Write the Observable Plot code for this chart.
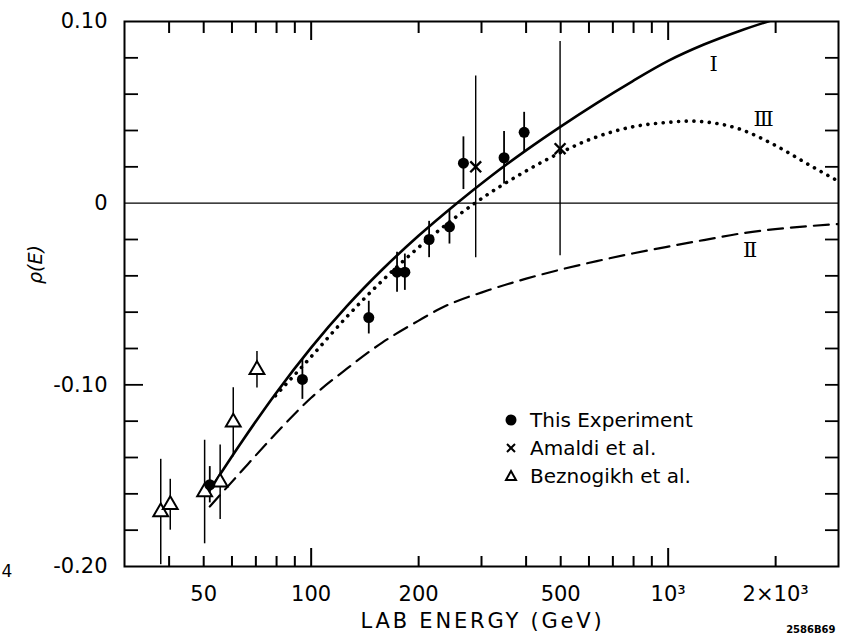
<!DOCTYPE html>
<html>
<head>
<meta charset="utf-8">
<script src="https://cdn.jsdelivr.net/npm/d3@7"></script>
<script src="https://cdn.jsdelivr.net/npm/@observablehq/plot@0.6"></script>
<style>
  html, body { margin: 0; padding: 0; background: #fff; }
  #wrap { position: relative; width: 843px; height: 641px; }
  #legend { position: absolute; left: 502px; top: 406px; font-family: "DejaVu Sans", sans-serif; font-size: 20px; color: #000; }
  #legend .row { display: flex; align-items: center; height: 28px; }
  #legend svg { width: 18px; height: 18px; margin-right: 10px; }
</style>
</head>
<body>
<div id="wrap"><div id="chart"></div><div id="legend"></div></div>
<script>
// ---------- data ----------
// Curve I (solid)
const curveI_E   = [52, 63.1, 79.4, 100, 125.9, 158.5, 199.5, 256, 316, 398, 501, 631, 794, 1000, 1259, 1585, 1995];
const curveI_rho = [-0.158, -0.133, -0.105, -0.0795, -0.0567, -0.0364, -0.0181, 0.0, 0.0143, 0.0288, 0.0423, 0.0551, 0.0671, 0.0783, 0.0873, 0.0948, 0.1013];
// Curve II (dashed)
const curveII_E   = [52, 63.1, 79.4, 100, 125.9, 158.5, 199.5, 230, 316, 398, 501, 631, 794, 1000, 1259, 1585, 1995, 3000];
const curveII_rho = [-0.167, -0.1486, -0.1271, -0.1071, -0.0911, -0.0766, -0.0648, -0.058, -0.0477, -0.0417, -0.0365, -0.0319, -0.0277, -0.0239, -0.0203, -0.0168, -0.0143, -0.0115];
// Curve III (dotted)
const curveIII_E   = [79.4, 100, 125.9, 158.5, 199.5, 251, 316, 398, 501, 631, 794, 1000, 1150, 1259, 1585, 1995, 2512, 3000];
const curveIII_rho = [-0.106, -0.0845, -0.0625, -0.0425, -0.0245, -0.0085, 0.0055, 0.0175, 0.028, 0.0365, 0.042, 0.0445, 0.0452, 0.0448, 0.0408, 0.0318, 0.0205, 0.012];

// This Experiment (filled circles)
const thisE   = [52, 94.5, 145, 174, 183, 214, 244, 267, 347, 395];
const thisRho = [-0.155, -0.097, -0.063, -0.038, -0.038, -0.020, -0.013, 0.022, 0.025, 0.039];
const thisErr = [0.010, 0.011, 0.009, 0.011, 0.010, 0.010, 0.0095, 0.0145, 0.0145, 0.011];
// Amaldi et al. (crosses)
const amaldiE   = [289, 498];
const amaldiRho = [0.020, 0.030];
const amaldiErr = [0.050, 0.059];
// Beznogikh et al. (open triangles)
const beznE   = [37.9, 40.3, 50.3, 55.6, 60.5, 70.5];
const beznRho = [-0.170, -0.166, -0.159, -0.1536, -0.1206, -0.0917];
const beznErr = [0.029, 0.014, 0.0285, 0.0205, 0.019, 0.010];

// curve labels
const curveLabels = ["Ⅰ", "Ⅱ", "Ⅲ"];
const curveLabelE = [1340, 1697, 1850];
const curveLabelRho = [0.0767, -0.026, 0.0464];

// legend
const legendNames = ["This Experiment", "Amaldi et al.", "Beznogikh et al."];

// ticks
const xTickVals   = [50, 100, 200, 500, 1000, 2000];
const xTickLabels = ["50", "100", "200", "500", "10³", "2×10³"];
const xMinorTicks = [40, 50, 60, 70, 80, 90, 200, 300, 400, 500, 600, 700, 800, 900, 2000];
const xMajorTicks = [100, 1000];
const yTickVals   = [0.10, 0, -0.10, -0.20];
const yTickLabels = ["0.10", "0", "-0.10", "-0.20"];
const yMinorTicks = [0.08, 0.06, 0.04, 0.02, -0.02, -0.04, -0.06, -0.08, -0.12, -0.14, -0.16, -0.18];
const yMajorTicks = [-0.10];

const xTitle = "LAB ENERGY (GeV)";
const yTitle = "ρ(E)";
const figId = "2586B69";
const edgeMark = "4";

// ---------- build ----------
const zip = (E, R, Er) => E.map((e, i) => ({E: e, rho: R[i], err: Er ? Er[i] : 0}));
const cI = zip(curveI_E, curveI_rho), cII = zip(curveII_E, curveII_rho), cIII = zip(curveIII_E, curveIII_rho);
const pThis = zip(thisE, thisRho, thisErr), pAm = zip(amaldiE, amaldiRho, amaldiErr), pBz = zip(beznE, beznRho, beznErr);
const lab = curveLabels.map((t, i) => ({t, E: curveLabelE[i], rho: curveLabelRho[i]}));
const xLab = xTickVals.map((v, i) => ({v, t: xTickLabels[i]}));
const yLab = yTickVals.map((v, i) => ({v, t: yTickLabels[i]}));

const W = 843, H = 641, mL = 124, mR = 5, mT = 21, mB = 75;
const iW = W - mL - mR, iH = H - mT - mB;

const chart = Plot.plot({
  width: W, height: H,
  marginLeft: mL, marginRight: mR, marginTop: mT, marginBottom: mB,
  style: {fontFamily: "DejaVu Sans, sans-serif", background: "#fff", color: "#000"},
  x: {type: "log", domain: [30, 3000], axis: null},
  y: {domain: [-0.20, 0.10], axis: null},
  marks: [
    // ticks (inward)
    Plot.tickX(xMinorTicks, {x: d => d, insetTop: iH - 10, strokeWidth: 2}),
    Plot.tickX(xMajorTicks, {x: d => d, insetTop: iH - 18, strokeWidth: 2}),
    Plot.tickX(xMinorTicks, {x: d => d, insetBottom: iH - 12, strokeWidth: 2}),
    Plot.tickX(xMajorTicks, {x: d => d, insetBottom: iH - 19, strokeWidth: 2}),
    Plot.tickY(yMinorTicks, {y: d => d, insetRight: iW - 14, strokeWidth: 1.8}),
    Plot.tickY(yMajorTicks, {y: d => d, insetRight: iW - 19, strokeWidth: 1.8}),
    Plot.tickY(yMinorTicks.concat(yMajorTicks), {y: d => d, insetLeft: iW - 13, strokeWidth: 1.8}),
    // zero line
    Plot.ruleY([0], {strokeWidth: 1.2}),
    // tick labels
    Plot.text(xLab, {x: "v", text: "t", frameAnchor: "bottom", lineAnchor: "top", dy: 20, fontSize: 21}),
    Plot.text(yLab, {y: "v", text: "t", frameAnchor: "left", textAnchor: "end", dx: -17, fontSize: 21}),
    // curves
    Plot.line(cI, {x: "E", y: "rho", curve: "monotone-x", stroke: "#000", strokeWidth: 2.6, clip: true}),
    Plot.line(cII, {x: "E", y: "rho", curve: "monotone-x", stroke: "#000", strokeWidth: 2.2, strokeDasharray: "15,8", clip: true}),
    Plot.line(cIII, {x: "E", y: "rho", curve: "monotone-x", stroke: "#000", strokeWidth: 3.6, strokeDasharray: "0.1,7.6", strokeLinecap: "round", clip: true}),
    // error bars
    Plot.ruleX(pBz, {x: "E", y1: d => d.rho - d.err, y2: d => d.rho + d.err, strokeWidth: 1.5, clip: true}),
    Plot.ruleX(pAm, {x: "E", y1: d => d.rho - d.err, y2: d => d.rho + d.err, strokeWidth: 1.4, clip: true}),
    Plot.ruleX(pThis, {x: "E", y1: d => d.rho - d.err, y2: d => d.rho + d.err, strokeWidth: 1.8, clip: true}),
    // points
    Plot.dot(pBz, {x: "E", y: "rho", symbol: "triangle", r: 5.5, fill: "#fff", stroke: "#000", strokeWidth: 2}),
    Plot.dot(pAm, {x: "E", y: "rho", symbol: "times", r: 5, stroke: "#000", strokeWidth: 2.4}),
    Plot.dot(pThis, {x: "E", y: "rho", r: 5.5, fill: "#000", stroke: "none"}),
    // curve labels
    Plot.text(lab, {x: "E", y: "rho", text: "t", fontSize: 21, fontFamily: "DejaVu Serif, serif"}),
    // titles
    Plot.text([xTitle], {frameAnchor: "bottom", dx: 1, dy: 61, fontSize: 21, text: d => d}),
    Plot.text([yTitle], {frameAnchor: "left", dx: -89, dy: -10, rotate: -90, fontSize: 19, fontStyle: "italic", text: d => d}),
    Plot.text([figId], {frameAnchor: "bottom-right", dx: -3, dy: 66, textAnchor: "end", fontSize: 10, fontWeight: "bold", text: d => d}),
    Plot.text([edgeMark], {frameAnchor: "bottom-left", dx: -123, dy: 10, textAnchor: "start", fontSize: 17, text: d => d}),
    // frame
    Plot.frame({stroke: "#000", strokeWidth: 2})
  ]
});
document.getElementById("chart").appendChild(chart);
d3.select(chart).selectAll("text").filter(function() { return this.textContent === xTitle; })
  .style("letter-spacing", "2.8px");

// legend (HTML overlay)
const sym = [
  '<svg viewBox="-9 -9 18 18"><circle r="5.5" fill="#000"/></svg>',
  '<svg viewBox="-9 -9 18 18"><path d="M-4,-4L4,4M4,-4L-4,4" stroke="#000" stroke-width="2"/></svg>',
  '<svg viewBox="-9 -9 18 18"><path d="M0,-5L5,4L-5,4Z" fill="#fff" stroke="#000" stroke-width="2"/></svg>'
];
const leg = document.getElementById("legend");
legendNames.forEach((n, i) => {
  const row = document.createElement("div");
  row.className = "row";
  row.innerHTML = sym[i] + '<span>' + n + '</span>';
  leg.appendChild(row);
});
</script>
</body>
</html>
